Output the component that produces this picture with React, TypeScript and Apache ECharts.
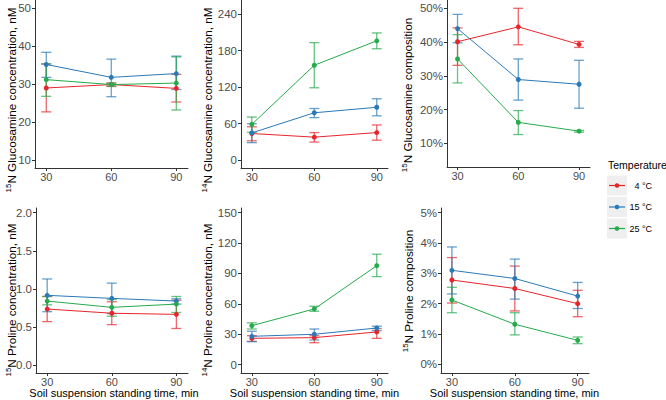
import React, { useEffect, useRef } from 'react';
import * as echarts from 'echarts';

// ---------- data ----------
const times = [30, 60, 90];
const temperatures = ['4 °C', '15 °C', '25 °C'];
const tempColors = ['#E7262B', '#2A79B8', '#25AA4C'];

// rows: 4 °C, 15 °C, 25 °C ; columns: 30, 60, 90 min
const glc15ConcMean = [[29.0, 29.9, 28.9], [35.2, 31.8, 32.8], [31.2, 29.9, 30.3]];
const glc15ConcLow = [[22.7, 29.4, 25.3], [31.8, 26.7, 28.6], [26.8, 29.5, 23.2]];
const glc15ConcHigh = [[35.3, 30.3, 32.6], [38.4, 36.6, 37.4], [35.4, 30.3, 37.2]];

const glc14ConcMean = [[44, 38, 45.5], [45, 78, 87], [59, 156, 196]];
const glc14ConcLow = [[32, 30, 33], [29, 70, 73], [46, 119, 183]];
const glc14ConcHigh = [[55, 45.5, 58], [60, 85, 101], [71, 193, 209]];

const glc15CompMean = [[40.1, 44.5, 39.3], [44.0, 28.9, 27.5], [35.0, 16.2, 13.6]];
const glc15CompLow = [[33.1, 39.2, 38.4], [39.8, 22.8, 20.4], [27.9, 12.6, 13.3]];
const glc15CompHigh = [[44.2, 50.0, 40.2], [48.2, 35.0, 34.6], [42.2, 19.7, 13.8]];

const pro15ConcMean = [[0.735, 0.68, 0.665], [0.915, 0.875, 0.84], [0.84, 0.757, 0.8]];
const pro15ConcLow = [[0.57, 0.53, 0.48], [0.7, 0.675, 0.8], [0.79, 0.64, 0.69]];
const pro15ConcHigh = [[0.9, 0.83, 0.85], [1.13, 1.075, 0.87], [0.9, 0.86, 0.9]];

const pro14ConcMean = [[26, 26.7, 32.3], [28, 30, 36.2], [38.5, 55, 97.7]];
const pro14ConcLow = [[23, 21.7, 26], [22.7, 24.4, 33.6], [35.2, 52.7, 86.9]];
const pro14ConcHigh = [[28.6, 28.6, 35.6], [33, 35.2, 37.9], [41.3, 57.6, 109]];

const pro15CompMean = [[2.78, 2.5, 2.0], [3.1, 2.83, 2.25], [2.12, 1.32, 0.79]];
const pro15CompLow = [[2.02, 1.76, 1.57], [2.32, 2.15, 1.84], [1.7, 0.97, 0.68]];
const pro15CompHigh = [[3.52, 3.24, 2.44], [3.87, 3.47, 2.7], [2.54, 1.7, 0.9]];

const glc15ConcTicks = [10, 20, 30, 40, 50];
const glc14ConcTicks = [0, 60, 120, 180, 240];
const glc15CompTicks = [10, 20, 30, 40, 50];
const pro15ConcTicks = [0, 0.5, 1.0, 1.5, 2.0];
const pro14ConcTicks = [0, 30, 60, 90, 120, 150];
const pro15CompTicks = [0, 1, 2, 3, 4, 5];

const xTitle = 'Soil suspension standing time, min';
const legendTitle = 'Temperature';

// ---------- layout ----------
const FONT = '"Liberation Sans", Arial, Helvetica, sans-serif';

const panels = [
  { mean: glc15ConcMean, low: glc15ConcLow, high: glc15ConcHigh, ticks: glc15ConcTicks, fmt: (v: number) => String(v),
    yMin: 7.9, yMax: 52.2, grid: { left: 35, top: 0, width: 153, height: 168 },
    sup: '15', title: 'N Glucosamine concentration, nM', tx: 11, ty: 100 },
  { mean: glc14ConcMean, low: glc14ConcLow, high: glc14ConcHigh, ticks: glc14ConcTicks, fmt: (v: number) => String(v),
    yMin: -12.6, yMax: 263, grid: { left: 241, top: 0, width: 147, height: 168 },
    sup: '14', title: 'N Glucosamine concentration, nM', tx: 207, ty: 100 },
  { mean: glc15CompMean, low: glc15CompLow, high: glc15CompHigh, ticks: glc15CompTicks, fmt: (v: number) => v + '%',
    yMin: 2.98, yMax: 52.46, grid: { left: 447, top: 0, width: 143, height: 167 },
    sup: '15', title: 'N Glucosamine composition', tx: 407, ty: 95 },
  { mean: pro15ConcMean, low: pro15ConcLow, high: pro15ConcHigh, ticks: pro15ConcTicks, fmt: (v: number) => v.toFixed(1),
    yMin: -0.105, yMax: 2.062, grid: { left: 36, top: 208, width: 152, height: 165 },
    sup: '15', title: 'N Proline concentration, nM', tx: 11, ty: 300, xt: 114 },
  { mean: pro14ConcMean, low: pro14ConcLow, high: pro14ConcHigh, ticks: pro14ConcTicks, fmt: (v: number) => String(v),
    yMin: -8.2, yMax: 154.6, grid: { left: 241, top: 208, width: 147, height: 165 },
    sup: '14', title: 'N Proline concentration, nM', tx: 207, ty: 300, xt: 314.5 },
  { mean: pro15CompMean, low: pro15CompLow, high: pro15CompHigh, ticks: pro15CompTicks, fmt: (v: number) => v + '%',
    yMin: -0.287, yMax: 5.155, grid: { left: 441, top: 208, width: 148, height: 165 },
    sup: '15', title: 'N Proline composition', tx: 408, ty: 291, xt: 514.5 },
];

function buildOption() {
  const grid: any[] = [];
  const xAxis: any[] = [];
  const yAxis: any[] = [];
  const series: any[] = [];
  const graphic: any[] = [];

  panels.forEach((p, pi) => {
    grid.push({ ...p.grid, containLabel: false });
    xAxis.push({
      type: 'value', gridIndex: pi, min: 24.8, max: 95.4,
      axisLine: { show: true, onZero: false, lineStyle: { color: '#333', width: 1 } },
      axisTick: { show: true, customValues: times, length: 3, lineStyle: { color: '#333', width: 1 } },
      axisLabel: { customValues: times, color: '#4d4d4d', fontSize: 11, margin: 3.5, fontFamily: FONT },
      splitLine: { show: false },
    });
    yAxis.push({
      type: 'value', gridIndex: pi, min: p.yMin, max: p.yMax,
      axisLine: { show: true, onZero: false, lineStyle: { color: '#333', width: 1 } },
      axisTick: { show: true, customValues: p.ticks, length: 3, lineStyle: { color: '#333', width: 1 } },
      axisLabel: { customValues: p.ticks, color: '#4d4d4d', fontSize: 11.5, margin: 4, fontFamily: FONT, formatter: p.fmt },
      splitLine: { show: false },
    });

    temperatures.forEach((t, k) => {
      const color = tempColors[k];
      series.push({
        type: 'custom', name: t, xAxisIndex: pi, yAxisIndex: pi, z: 2,
        data: times.map((x, i) => [x, p.low[k][i], p.high[k][i]]),
        encode: { x: 0, y: [1, 2] },
        renderItem: (_params: any, api: any) => {
          const x = api.value(0);
          const pl = api.coord([x, api.value(1)]);
          const ph = api.coord([x, api.value(2)]);
          const hw = 5;
          const style = { stroke: color, lineWidth: 1.3, opacity: 0.7 };
          return {
            type: 'group',
            children: [
              { type: 'line', shape: { x1: pl[0], y1: pl[1], x2: ph[0], y2: ph[1] }, style },
              { type: 'line', shape: { x1: pl[0] - hw, y1: pl[1], x2: pl[0] + hw, y2: pl[1] }, style },
              { type: 'line', shape: { x1: ph[0] - hw, y1: ph[1], x2: ph[0] + hw, y2: ph[1] }, style },
            ],
          };
        },
      });
      series.push({
        type: 'line', name: t, xAxisIndex: pi, yAxisIndex: pi, z: 3,
        data: times.map((x, i) => [x, p.mean[k][i]]),
        symbol: 'circle', symbolSize: 5, showSymbol: true,
        lineStyle: { color, width: 1 }, itemStyle: { color },
      });
    });

    graphic.push({
      type: 'text', x: p.tx, y: p.ty, rotation: Math.PI / 2,
      style: {
        text: '{s|' + p.sup + '}{n|' + p.title + '}',
        align: 'center', verticalAlign: 'middle', fill: '#000',
        rich: {
          s: { fontSize: 8, fontFamily: FONT, fill: '#000', verticalAlign: 'top', lineHeight: 14 },
          n: { fontSize: 11.7, fontFamily: FONT, fill: '#000', lineHeight: 14 },
        },
      },
    });
    if ((p as any).xt !== undefined) {
      graphic.push({
        type: 'text', x: (p as any).xt, y: 393,
        style: { text: xTitle, align: 'center', verticalAlign: 'middle', fontSize: 11, fontFamily: FONT, fill: '#000' },
      });
    }
  });

  // legend
  graphic.push({
    type: 'text', x: 608, y: 165,
    style: { text: legendTitle, align: 'left', verticalAlign: 'middle', fontSize: 10.5, fontFamily: FONT, fill: '#000' },
  });
  const rowY = [185.5, 207, 228.5];
  temperatures.forEach((t, k) => {
    const cy = rowY[k];
    graphic.push({ type: 'rect', shape: { x: 607, y: cy - 10, width: 20, height: 20 }, style: { fill: '#EFEFEF' } });
    graphic.push({ type: 'line', shape: { x1: 609, y1: cy, x2: 625, y2: cy }, style: { stroke: tempColors[k], lineWidth: 1.2 } });
    graphic.push({ type: 'circle', shape: { cx: 617, cy, r: 2.3 }, style: { fill: tempColors[k] } });
    graphic.push({
      type: 'text', x: 652, y: cy,
      style: { text: t, align: 'right', verticalAlign: 'middle', fontSize: 9, fontFamily: FONT, fill: '#000' },
    });
  });

  return {
    animation: false,
    backgroundColor: '#ffffff',
    grid, xAxis, yAxis, series, graphic,
  };
}

export default function App() {
  const ref = useRef<HTMLDivElement>(null);
  useEffect(() => {
    if (!ref.current) return;
    const chart = echarts.init(ref.current, undefined, { renderer: 'svg' });
    chart.setOption(buildOption() as any);
    return () => chart.dispose();
  }, []);
  return <div ref={ref} style={{ position: 'absolute', left: 0, top: 0, width: 666, height: 400 }} />;
}
